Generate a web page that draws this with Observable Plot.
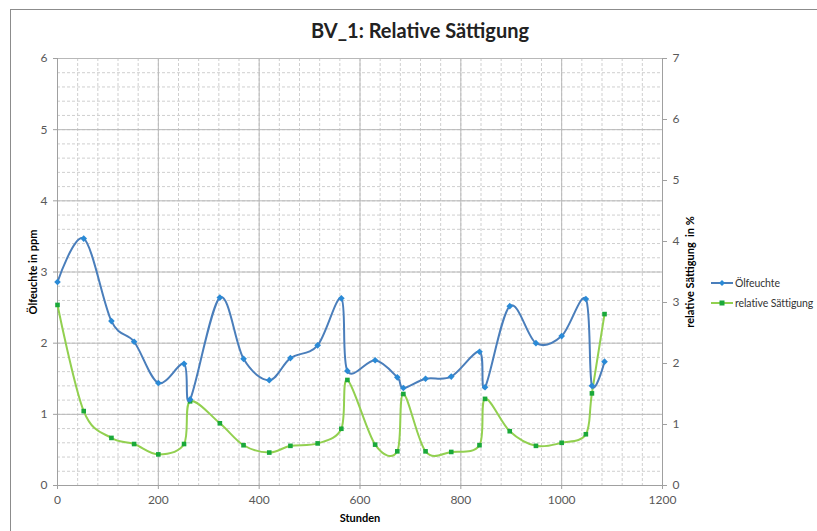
<!DOCTYPE html>
<html>
<head>
<meta charset="utf-8">
<script src="https://cdn.jsdelivr.net/npm/d3@7"></script>
<script src="https://cdn.jsdelivr.net/npm/@observablehq/plot@0.6"></script>
<style>
  html, body { margin: 0; padding: 0; background: #fff; }
  #wrap { position: relative; width: 817px; height: 531px; overflow: hidden; font-family: Lato, "Open Sans", sans-serif; }
  #frame { position: absolute; left: 10px; top: 9px; width: 900px; height: 600px; border-left: 1px solid #8c8c8c; border-top: 1px solid #8c8c8c; }
  #title { position: absolute; left: 0; top: 18px; width: 840px; text-align: center; font-weight: bold; font-size: 20px; color: #222; }
  #legend { position: absolute; left: 711px; top: 273px; font-size: 10.5px; letter-spacing: -0.1px; color: #333; }
  #legend div { display: flex; align-items: center; height: 20px; white-space: nowrap; }
  #legend svg { margin-right: 1px; }
  #chart { position: absolute; left: 0; top: 0; }
</style>
</head>
<body>
<div id="wrap">
  <div id="frame"></div>
  <div id="chart"></div>
  <div id="title">BV_1: Relative Sättigung</div>
  <div id="legend"></div>
</div>
<script>
// Data
const hours = [0, 52, 107, 152, 200, 251, 263, 322, 369, 420, 462, 516, 563, 575, 630, 674, 686, 730, 781, 837, 848, 897, 949, 1000, 1048, 1060, 1085];
const oelfeuchte = [2.86, 3.47, 2.31, 2.02, 1.44, 1.71, 1.21, 2.64, 1.78, 1.48, 1.79, 1.97, 2.63, 1.61, 1.76, 1.52, 1.37, 1.50, 1.53, 1.88, 1.38, 2.52, 2.00, 2.10, 2.62, 1.40, 1.74];
const saettigung = [2.96, 1.22, 0.78, 0.68, 0.51, 0.68, 1.38, 1.02, 0.66, 0.54, 0.65, 0.69, 0.93, 1.73, 0.67, 0.56, 1.50, 0.56, 0.55, 0.66, 1.42, 0.89, 0.65, 0.70, 0.84, 1.51, 2.81];
const seriesNames = ["Ölfeuchte", "relative Sättigung"];
const leftTicks = [0, 1, 2, 3, 4, 5, 6];
const rightTicks = [0, 1, 2, 3, 4, 5, 6, 7];
const xTicks = [0, 200, 400, 600, 800, 1000, 1200];

const leftMax = 6, rightMax = 7;
const k = leftMax / rightMax; // map right axis values onto left scale

const blueLine = "#4a7ebb", blueDot = "#2a8ad6";
const greenLine = "#92d050", greenDot = "#1aa83a";

const dataOel = hours.map((h, i) => ({h, v: oelfeuchte[i]}));
const dataSat = hours.map((h, i) => ({h, v: saettigung[i] * k}));

const chart = Plot.plot({
  width: 817,
  height: 531,
  marginLeft: 57,
  marginRight: 155,
  marginTop: 58,
  marginBottom: 46,
  style: {fontFamily: "Lato, 'Open Sans', sans-serif", fontSize: "12px", color: "#595959", background: "transparent"},
  x: {domain: [0, 1200]},
  y: {domain: [0, leftMax]},
  marks: [
    Plot.gridX({ticks: d3.range(0, 1201, 40), stroke: "#cfcfcf", strokeOpacity: 1, strokeDasharray: "3,2"}),
    Plot.gridY({ticks: d3.range(0, 6.001, 0.2), stroke: "#cfcfcf", strokeOpacity: 1, strokeDasharray: "3,2"}),
    Plot.gridX({ticks: xTicks, stroke: "#b8b8b8", strokeOpacity: 1}),
    Plot.gridY({ticks: leftTicks, stroke: "#b8b8b8", strokeOpacity: 1}),
    Plot.ruleX([0, 1200], {stroke: "#a0a0a0"}),
    Plot.ruleY([0], {stroke: "#a0a0a0"}),
    Plot.axisX({ticks: xTicks, tickFormat: d => String(d), tickSize: 4, stroke: "#a0a0a0", tickPadding: 6, fill: "#595959",
      label: "Stunden", labelAnchor: "center", labelArrow: "none", labelOffset: 36}),
    Plot.axisY({ticks: leftTicks, tickFormat: d => String(d), tickSize: 4, stroke: "#a0a0a0", tickPadding: 6, fill: "#595959",
      label: "Ölfeuchte in ppm", labelAnchor: "center", labelArrow: "none", labelOffset: 28}),
    Plot.axisY({anchor: "right", ticks: rightTicks.map(v => v * k), tickFormat: d => String(Math.round(d / k)),
      tickSize: 4, stroke: "#a0a0a0", tickPadding: 6, fill: "#595959",
      label: "relative Sättigung  in %", labelAnchor: "center", labelArrow: "none", labelOffset: 31}),
    Plot.line(dataSat, {x: "h", y: "v", stroke: greenLine, strokeWidth: 2, curve: "cardinal", tension: 0}),
    Plot.dot(dataSat, {x: "h", y: "v", symbol: "square", r: 2.6, fill: greenDot, stroke: "none"}),
    Plot.line(dataOel, {x: "h", y: "v", stroke: blueLine, strokeWidth: 2, curve: "cardinal", tension: 0}),
    Plot.dot(dataOel, {x: "h", y: "v", symbol: "diamond2", r: 3, fill: blueDot, stroke: "none"})
  ]
});
document.getElementById("chart").appendChild(chart);

// style axis labels (bold, black, small)
chart.querySelectorAll("[aria-label='x-axis label'] text, [aria-label='y-axis label'] text").forEach(t => {
  t.style.fontWeight = "bold"; t.style.fontSize = "11px"; t.setAttribute("fill", "#000");
});

// Legend
const leg = document.getElementById("legend");
[[seriesNames[0], blueLine, blueDot, "d"], [seriesNames[1], greenLine, greenDot, "s"]].forEach(([name, lc, mc, m]) => {
  const row = document.createElement("div");
  const marker = m === "d"
    ? `<path d="M11 7 L14 10 L11 13 L8 10 Z" fill="${mc}"/>`
    : `<rect x="8.5" y="7.5" width="5" height="5" fill="${mc}"/>`;
  row.innerHTML = `<svg width="23" height="20"><line x1="0" x2="22" y1="10" y2="10" stroke="${lc}" stroke-width="2"/>${marker}</svg><span>${name}</span>`;
  leg.appendChild(row);
});
</script>
</body>
</html>
